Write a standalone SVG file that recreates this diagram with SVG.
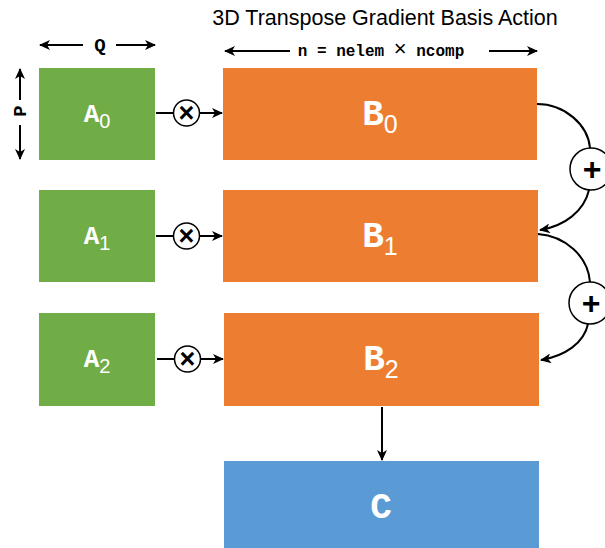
<svg xmlns="http://www.w3.org/2000/svg" width="605" height="548" viewBox="0 0 605 548">
<defs>
<marker id="ah" markerWidth="12" markerHeight="10" refX="10" refY="5" orient="auto" markerUnits="userSpaceOnUse">
<path d="M0,0 L11,5 L0,10 L3,5 Z" fill="#000"/>
</marker>
</defs>
<style>
.g{fill:#70AD47}
.o{fill:#ED7D31}
.b{fill:#5B9BD5}
.ln{stroke:#000;stroke-width:2;fill:none}
.lbl{font-family:"Liberation Mono",monospace;font-weight:bold;fill:#fff;text-anchor:middle}
.sub{font-family:"Liberation Sans",Arial,sans-serif;font-weight:normal}
.dim{font-family:"Liberation Mono",monospace;font-weight:bold;fill:#000;text-anchor:middle}
.op{fill:#fff;stroke:#000;stroke-width:1.5}
.opt{font-family:"Liberation Sans",Arial,sans-serif;font-weight:bold;fill:#000;text-anchor:middle}
</style>
<rect width="605" height="548" fill="#fff"/>
<text x="385" y="25" font-family="Liberation Sans,Arial,sans-serif" font-size="21.5" text-anchor="middle" fill="#000">3D Transpose Gradient Basis Action</text>
<g id="dims">
<line class="ln" x1="83" y1="45" x2="40" y2="45" marker-end="url(#ah)"/>
<line class="ln" x1="116" y1="45" x2="155" y2="45" marker-end="url(#ah)"/>
<text class="dim" x="100" y="51" font-size="19">Q</text>
<line class="ln" x1="20" y1="100" x2="20" y2="69" marker-end="url(#ah)"/>
<line class="ln" x1="20" y1="125" x2="20" y2="159" marker-end="url(#ah)"/>
<text class="dim" font-size="19" transform="translate(26,111) rotate(-90)">P</text>
<line class="ln" x1="290" y1="51" x2="225" y2="51" marker-end="url(#ah)"/>
<line class="ln" x1="489" y1="51" x2="537" y2="51" marker-end="url(#ah)"/>
<text class="dim" x="381" y="56" font-size="16">n = nelem <tspan font-family="Liberation Sans,Arial,sans-serif" font-weight="normal" font-size="22">×</tspan> ncomp</text>
</g>
<g id="A0"><rect class="g" x="39" y="68" width="116" height="92"/><text class="lbl" x="97" y="122" font-size="26">A<tspan class="sub" dy="6" font-size="20">0</tspan></text></g>
<g id="A1"><rect class="g" x="39" y="190" width="116" height="92"/><text class="lbl" x="97" y="244" font-size="26">A<tspan class="sub" dy="6" font-size="20">1</tspan></text></g>
<g id="A2"><rect class="g" x="39" y="313" width="116" height="93"/><text class="lbl" x="97" y="367" font-size="26">A<tspan class="sub" dy="6" font-size="20">2</tspan></text></g>
<g id="B0"><rect class="o" x="223" y="68" width="314" height="92"/><text class="lbl" x="380" y="125" font-size="36">B<tspan class="sub" dy="8" font-size="25">0</tspan></text></g>
<g id="B1"><rect class="o" x="223" y="190" width="315" height="92"/><text class="lbl" x="380" y="247" font-size="36">B<tspan class="sub" dy="8" font-size="25">1</tspan></text></g>
<g id="B2"><rect class="o" x="224" y="313" width="315" height="93"/><text class="lbl" x="381" y="370" font-size="36">B<tspan class="sub" dy="8" font-size="25">2</tspan></text></g>
<g id="C"><rect class="b" x="224" y="461" width="315" height="87"/><text class="lbl" x="381" y="518" font-size="36">C</text></g>
<g id="connectors">
<line class="ln" x1="156" y1="113" x2="173" y2="113"/>
<line class="ln" x1="200" y1="113" x2="222" y2="113" marker-end="url(#ah)"/>
<line class="ln" x1="156" y1="236" x2="173" y2="236"/>
<line class="ln" x1="200" y1="236" x2="222" y2="236" marker-end="url(#ah)"/>
<line class="ln" x1="157" y1="359" x2="174" y2="359"/>
<line class="ln" x1="201" y1="359" x2="223" y2="359" marker-end="url(#ah)"/>
<line class="ln" x1="382" y1="407" x2="382" y2="460" marker-end="url(#ah)"/>
<path class="ln" d="M537,104 C565,104 588,125 590,148"/>
<path class="ln" d="M589,190 C584,211 565,226 540,230" marker-end="url(#ah)"/>
<path class="ln" d="M538,234 C565,236 588,256 590,282"/>
<path class="ln" d="M588,324 C584,343 565,356 541,360" marker-end="url(#ah)"/>
</g>
<g id="mul0"><circle class="op" cx="186.5" cy="113" r="13"/><text class="opt" x="186.5" y="121.5" font-size="27">×</text></g>
<g id="mul1"><circle class="op" cx="186.5" cy="236" r="13"/><text class="opt" x="186.5" y="244.5" font-size="27">×</text></g>
<g id="mul2"><circle class="op" cx="187.5" cy="359" r="13"/><text class="opt" x="187.5" y="367.5" font-size="27">×</text></g>
<g id="plus0"><circle class="op" cx="591" cy="169" r="21" stroke-width="2"/><text class="opt" x="592" y="180" font-size="32">+</text></g>
<g id="plus1"><circle class="op" cx="590" cy="303" r="21" stroke-width="2"/><text class="opt" x="591" y="314" font-size="32">+</text></g>
</svg>
